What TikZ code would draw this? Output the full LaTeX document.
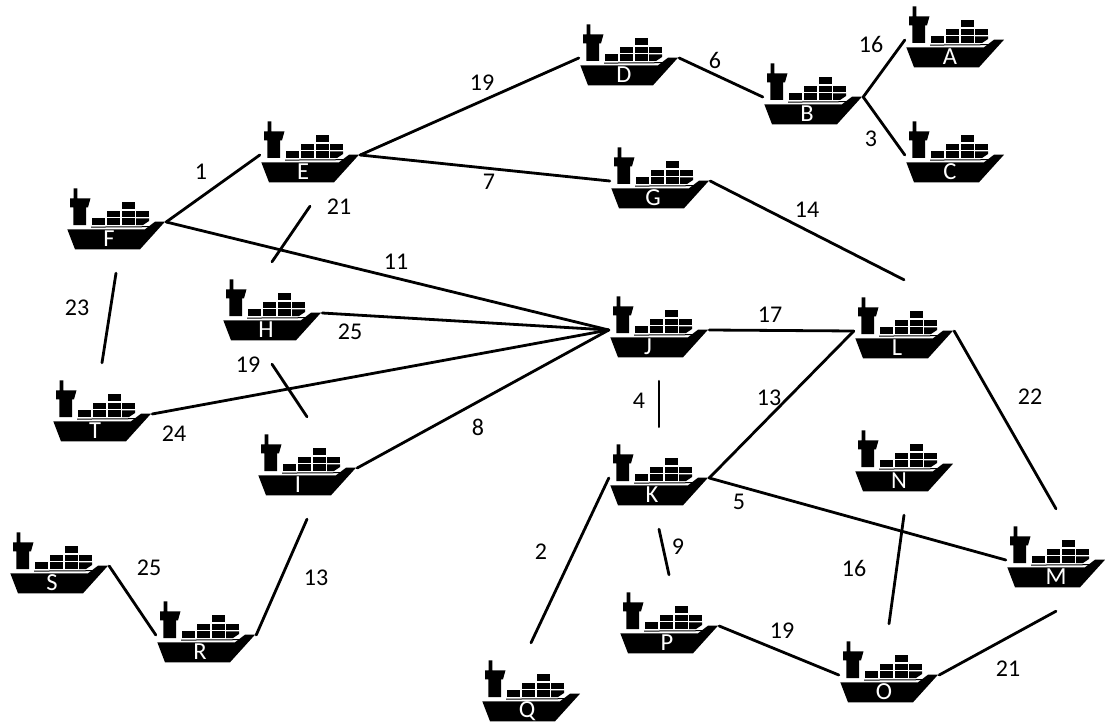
\documentclass[tikz,border=0pt]{standalone}
\usepackage{fontspec}
\setmainfont{Carlito}
\usetikzlibrary{calc}
\tikzset{
  shipbox/.style = {minimum width = 100pt, minimum height = 102pt, inner sep = 0pt},
  shipname/.style = {text = white, font = \fontsize{24.5}{24.5}\selectfont, inner sep = 0pt},
  weight/.style = {font = \fontsize{24}{24}\selectfont, inner sep = 0pt},
  route/.style = {line width = 2.8pt, line cap = round},
  ship/.pic = {
    % hull
    \fill (-48.7,7.3) -- (29,7.3) -- (39,-0.3) -- (49,-0.3) -- (24,27.3) -- (-41,27.3) -- cycle;
    % tower
    \fill (-42.3,-33.7) -- (-38.7,-33.7) -- (-38.7,-23.7) -- (-25.5,-23.7) -- (-28,-14.7) -- (-30,-14.7)
      -- (-30,3) -- (-42.7,3) -- (-42.7,-14.7) -- (-46,-14.7) -- (-46,-23.7) -- (-42.3,-23.7) -- cycle;
    % containers
    \fill (-24.3,-3.7) rectangle (-11.5,3);
    \fill (-9.3,-3.7) rectangle (4,3);
    \fill (5.7,-3.7) rectangle (18.5,3);
    \fill (20,-3.7) -- (33,-3.7) -- (33,-1) -- (27,3) -- (20,3) -- cycle;
    \fill (-9.3,-11.3) rectangle (4,-5.3);
    \fill (5.7,-11.3) rectangle (18.5,-5.3);
    \fill (20,-11.3) rectangle (33,-5.3);
    \fill (5.7,-20.3) rectangle (18.5,-13);
    % deck
    \fill (-25,4.6) -- (33,4.2) -- (33,5.2) -- (-25,5.6) -- cycle;
  }
}
\newcommand{\shipat}[3]{
  \node[shipbox] (#1) at (#2) {};
  \pic at (#1) {ship};
  \node[shipname] (name#1) at ($(#1)+(#3,17)$) {#1};
}

\begin{document}
\begin{tikzpicture}[x = 1pt, y = -1pt]
    \useasboundingbox (0,0) rectangle (1105,722);

    \shipat{A}{955,40}{-5}
    \shipat{B}{813,97}{-6}
    \shipat{C}{955,155}{-5}
    \shipat{D}{629,58}{-5}
    \shipat{E}{310,155}{-7}
    \shipat{F}{116,222}{-7}
    \shipat{G}{660,181}{-7}
    \shipat{H}{272,313}{-6}
    \shipat{I}{307,468}{-9}
    \shipat{J}{659,330}{-11}
    \shipat{K}{659,478}{-7}
    \shipat{L}{904,331}{-7}
    \shipat{M}{1056,560}{0}
    \shipat{N}{904,464}{-5}
    \shipat{O}{889,675}{-5}
    \shipat{P}{669,626}{-2}
    \shipat{Q}{531,694}{-4}
    \shipat{R}{206,635}{-6}
    \shipat{S}{59,566}{-7}
    \shipat{T}{102,414}{-7}

    \draw[route] (F.east) -- (E.west);
    \draw[route] (E.east) -- (D.west);
    \draw[route] (E.east) -- (G.west);
    \draw[route] (D.east) -- (B.west);
    \draw[route] (B.east) -- (A.west);
    \draw[route] (B.east) -- (C.west);
    \draw[route] (G.east) -- (L.north);
    \draw[route] (E.south) -- (H.north);
    \draw[route] (F.east) -- (J.west);
    \draw[route] (H.east) -- (J.west);
    \draw[route] (T.east) -- (J.west);
    \draw[route] (I.east) -- (J.west);
    \draw[route] (J.east) -- (L.west);
    \draw[route] (L.west) -- (K.east);
    \draw[route] (L.east) -- (M.north);
    \draw[route] (J.south) -- (K.north);
    \draw[route] (K.east) -- (M.west);
    \draw[route] (K.south) -- (P.north);
    \draw[route] (K.west) -- (Q.north);
    \draw[route] (F.south) -- (T.north);
    \draw[route] (H.south) -- (I.north);
    \draw[route] (I.south) -- (R.east);
    \draw[route] (S.east) -- (R.west);
    \draw[route] (P.east) -- (O.west);
    \draw[route] (O.east) -- (M.south);
    \draw[route] (N.south) -- (O.north);

    \node[weight] (w1) at (201,172) {1};
    \node[weight] (w2) at (482,83) {19};
    \node[weight] (w3) at (489,182) {7};
    \node[weight] (w4) at (715,60) {6};
    \node[weight] (w5) at (871,44) {16};
    \node[weight] (w6) at (871,139) {3};
    \node[weight] (w7) at (807,210) {14};
    \node[weight] (w8) at (339,207) {21};
    \node[weight] (w9) at (396,262) {11};
    \node[weight] (w10) at (350,332) {25};
    \node[weight] (w11) at (174,434) {24};
    \node[weight] (w12) at (478,427) {8};
    \node[weight] (w13) at (770,315) {17};
    \node[weight] (w14) at (769,398) {13};
    \node[weight] (w15) at (1030,397) {22};
    \node[weight] (w16) at (639,401) {4};
    \node[weight] (w17) at (739,502) {5};
    \node[weight] (w18) at (678,547) {9};
    \node[weight] (w19) at (541,552) {2};
    \node[weight] (w20) at (77,308) {23};
    \node[weight] (w21) at (248,365) {19};
    \node[weight] (w22) at (316,578) {13};
    \node[weight] (w23) at (149,568) {25};
    \node[weight] (w24) at (782,631) {19};
    \node[weight] (w25) at (1008,669) {21};
    \node[weight] (w26) at (854,568) {16};
\end{tikzpicture}
\end{document}
